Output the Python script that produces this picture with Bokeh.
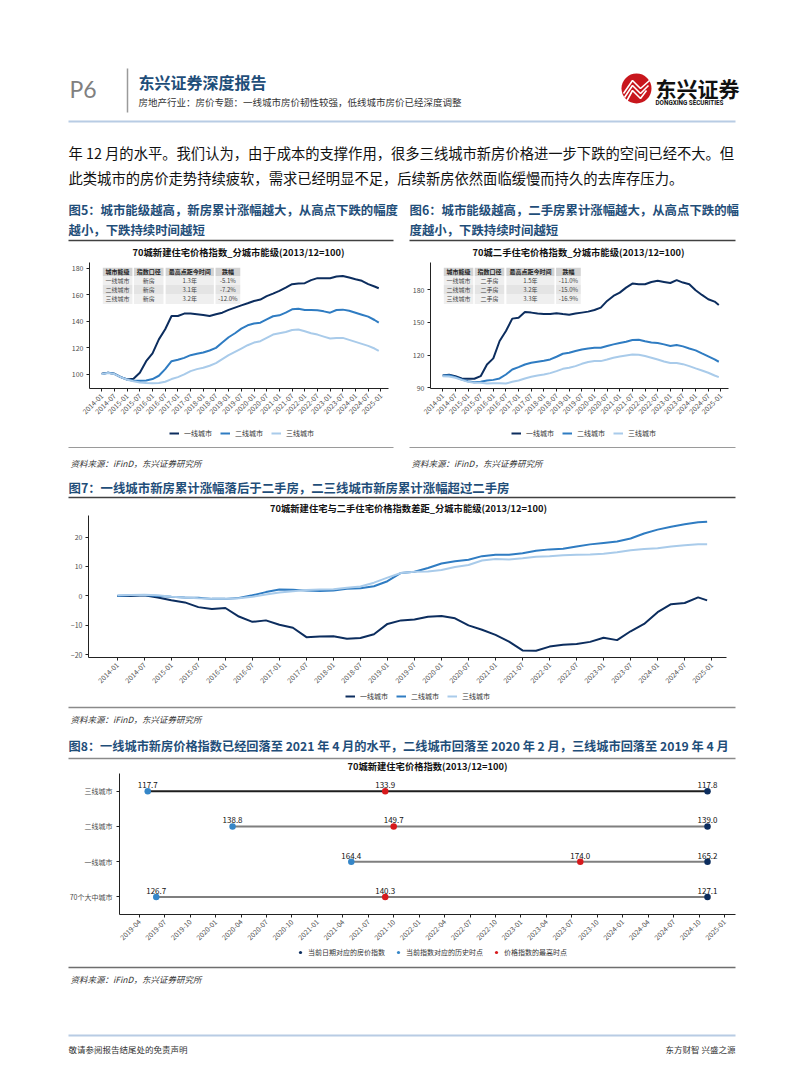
import calendar
from bokeh.plotting import figure
from bokeh.models import Range1d, FactorRange, FixedTicker, Legend, LegendItem
from bokeh.layouts import column, row
from bokeh.core.properties import value
from bokeh.embed import file_html
from bokeh.resources import INLINE

FONT = "Noto Sans CJK SC"
NAVY = "#0c2d5e"
MID = "#2f7cc2"
LIGHT = "#a9cbea"
RED = "#d7191c"
HIST = "#3586c8"
TITLE_BLUE = "#1f4e79"
GRAYTXT = "#4d4d4d"

# ------------------------------------------------------------------ data
months = [f"{y}-{m:02d}" for y in range(2014, 2025) for m in (1, 4, 7, 10)] + ["2024-12"]
ticks_6m = [f"{y}-{m:02d}" for y in range(2014, 2026) for m in (1, 7)][:-1]
tiers = ["一线城市", "二线城市", "三线城市"]

# Fig5: 70-city new home price index by tier (2013/12=100)
new_t1 = [100.5, 101.3, 100.5, 98, 96.2, 96.7, 101.3, 110, 115.9, 126.4, 134, 144,
          144, 145.8, 145.8, 145.3, 144.8, 144, 145.3, 146.5, 148.6, 150.3, 152, 153.6,
          155.3, 156.4, 159, 160.9, 162.9, 165.4, 168, 168.4, 168.7, 171, 172.5, 172.5,
          172.5, 173.7, 174.2, 173, 171.7, 170.5, 168, 166.2, 164.9]
new_t2 = [100.3, 101.2, 100.5, 98, 96.2, 95.3, 95.2, 95.5, 96.5, 99, 104, 110,
          111, 112.5, 114.5, 115.5, 116.5, 118, 120, 124, 128, 131, 134.5, 137,
          138.3, 139, 141.5, 143.8, 144.5, 146.5, 149, 149.5, 148.5, 148.5, 148.3, 147.5,
          146.5, 148.5, 148.8, 148, 146.5, 145, 143.5, 141, 139]
new_t3 = [100.3, 101, 100.3, 98, 96, 94.8, 94, 93.5, 93.3, 93.5, 94.5, 96.5,
          98, 100, 102.5, 104, 105, 106.5, 108.5, 111.5, 114.5, 117, 119.5, 122,
          124, 125, 127.5, 130, 131, 132, 133.5, 133.8, 132.5, 131, 130, 128.5,
          127, 127.5, 127.5, 126, 124.5, 123, 121.5, 119.5, 117.8]

# Fig6: 70-city second-hand home price index by tier
sec_t1 = [101.3, 102, 100.7, 98.6, 98.3, 98.3, 100.7, 111.4, 117, 132.9, 142, 153.4,
          154.3, 159.5, 158.9, 158, 157.6, 157.6, 158.3, 157.6, 157, 158, 158.9, 159.8,
          161.3, 163.5, 169.6, 174.2, 177.2, 181.8, 185.5, 184.9, 184.9, 187, 188, 187,
          186, 188.6, 186.4, 184.9, 179.4, 175.1, 171.1, 169, 165.9]
sec_t2 = [101.3, 101.6, 99.8, 97.7, 96.1, 95.2, 95.5, 96.7, 97.3, 98.6, 102.2, 106.8,
          109, 111.4, 113, 113.9, 114.8, 116, 118.5, 121.2, 122.1, 123.7, 125.2, 126.1,
          126.7, 126.7, 128.3, 129.8, 131, 132.2, 133.8, 134.1, 132.6, 131.6, 131, 129.8,
          128.3, 129.2, 128, 126.1, 124.3, 121.5, 118.8, 116, 113.9]
sec_t3 = [100.7, 100.4, 99.2, 97.3, 95.5, 94.6, 94.6, 94, 94.3, 94.3, 94, 95.5,
          96.7, 98.6, 100.1, 101.3, 102.2, 103.5, 105.3, 107.4, 108.4, 109.9, 112, 113.6,
          114.5, 114.5, 116, 117.6, 118.8, 119.7, 120.6, 120.3, 119.1, 117.6, 116, 114.2,
          112.7, 112.7, 111.7, 109.9, 107.8, 105.9, 103.8, 101.3, 99.8]

# Fig7: gap new minus second-hand
gap_t1 = [0, 0, 0.2, -0.5, -1.5, -2.2, -3.8, -4.4, -4.1, -7, -8.8, -8.3,
          -9.8, -10.8, -14, -13.8, -13.7, -14.5, -14.3, -13, -9.5, -8.3, -8.0, -7.1,
          -6.8, -7.6, -10, -11.5, -13.2, -15.5, -18.5, -18.6, -17.2, -16.6, -16.3, -15.6,
          -14.2, -15, -12, -9.5, -5.5, -2.8, -2.4, -0.5, -1.5]
gap_t2 = [0, 0.2, 0.2, 0, -0.3, -0.5, -0.6, -1, -1, -0.7, 0.2, 1.3,
          2.2, 2.1, 1.8, 1.7, 1.8, 2.4, 2.6, 3.3, 5, 7.8, 8.2, 9.5,
          11, 11.8, 12.3, 13.5, 14, 14, 14.5, 15.3, 15.8, 16, 16.8, 17.5,
          18, 18.5, 19.5, 21.2, 22.5, 23.5, 24.3, 25, 25.2]
gap_t3 = [0.2, 0.3, 0.4, 0.2, -0.3, -0.5, -0.8, -1, -1, -0.8, -0.3, 0.5,
          1.2, 1.6, 2, 2.2, 2.3, 2.8, 3.2, 4.5, 6.2, 7.8, 8.2, 8.3,
          8.8, 9.8, 10.5, 12, 12.5, 12.4, 12.8, 13.3, 13.5, 13.8, 14, 14.1,
          14.3, 14.8, 15.5, 15.9, 16.2, 16.8, 17.2, 17.5, 17.5]

# tables in fig5 / fig6
table_header = ["城市能级", "指数口径", "最高点距今时间", "跌幅"]
table5_rows = [["一线城市", "新房", "1.3年", "-5.1%"],
               ["二线城市", "新房", "3.1年", "-7.2%"],
               ["三线城市", "新房", "3.2年", "-12.0%"]]
table6_rows = [["一线城市", "二手房", "1.5年", "-11.0%"],
               ["二线城市", "二手房", "3.2年", "-15.0%"],
               ["三线城市", "二手房", "3.3年", "-16.9%"]]

# Fig8: dumbbell
cities8 = ["三线城市", "二线城市", "一线城市", "70个大中城市"]
cur_val = [117.8, 139.0, 165.2, 127.1]
cur_date = ["2024-10-31", "2024-10-31", "2024-10-31", "2024-10-31"]
hist_val = [117.7, 138.8, 164.4, 126.7]
hist_date = ["2019-04-30", "2020-02-29", "2021-04-30", "2019-05-31"]
peak_val = [133.9, 149.7, 174.0, 140.3]
peak_date = ["2021-08-31", "2021-09-30", "2023-07-31", "2021-08-31"]
legend8 = ["当前日期对应的房价指数", "当前指数对应的历史时点", "价格指数的最高时点"]
ticks_3m = [f"{y}-{m:02d}" for y in range(2019, 2026) for m in (1, 4, 7, 10)]
ticks_3m = [t for t in ticks_3m if "2019-04" <= t <= "2025-01"]


def midx(s, base="2014-01"):
    y, m = int(s[:4]), int(s[5:7])
    by, bm = int(base[:4]), int(base[5:7])
    v = (y - by) * 12 + (m - bm)
    if len(s) > 7:
        d = int(s[8:10])
        v += d / calendar.monthrange(y, m)[1]
    return v


COMMON = dict(output_backend="svg", toolbar_location=None, frame_align=False)
W = 802


# ------------------------------------------------------------------ helpers
def band(y0, y1):
    p = figure(width=W, height=y1 - y0, x_range=Range1d(0, W), y_range=Range1d(y1, y0),
               min_border=0, x_axis_location=None, y_axis_location=None, **COMMON)
    p.grid.visible = False
    p.outline_line_color = None
    return p


def txt(p, x, y, s, size, color="#111111", bold=False, italic=False, align="left", font=FONT):
    style = "bold" if bold else ("italic" if italic else "normal")
    p.text(x=[x], y=[y], text=[s], text_font=value(font), text_font_size=f"{size}px",
           text_color=color, text_align=align, text_baseline="middle", text_font_style=style)


def hline(p, x0, x1, y, color, w):
    p.line(x=[x0, x1], y=[y, y], line_color=color, line_width=w)


def style_axes(p):
    for ax in (p.xaxis[0], p.yaxis[0]):
        ax.axis_line_color = "#222222"
        ax.axis_line_width = 1
        ax.major_tick_line_color = "#222222"
        ax.major_tick_out = 3
        ax.major_tick_in = 0
        ax.minor_tick_line_color = None
        ax.major_label_text_font = FONT
        ax.major_label_text_font_size = "7px"
        ax.major_label_text_color = GRAYTXT
        ax.major_label_standoff = 3
    p.grid.visible = False
    p.outline_line_color = None


def band_legend(b, left, center_y, labels, colors, kind="line", glyph_w=10, standoff=5, spacing=8):
    """Legend drawn in a band figure (page coordinates) for the chart above it.
    The key renderers sit outside the band's visible range; only their legend keys show."""
    items = []
    for lab, col in zip(labels, colors):
        if kind == "line":
            r = b.line(x=[-60, -50], y=[-60, -60], line_color=col, line_width=2)
        else:
            r = b.scatter(x=[-60], y=[-60], size=6.5, fill_color=col, line_color=None)
        items.append(LegendItem(label=lab, renderers=[r]))
    bottom = b.y_range.start
    lg = Legend(items=items, orientation="horizontal", location=(left, bottom - center_y - 5),
                label_text_font=FONT, label_text_font_size="7px", label_text_color="#333333",
                glyph_width=glyph_w, glyph_height=10, label_standoff=standoff, spacing=spacing,
                padding=0, margin=0, border_line_color=None, background_fill_alpha=0)
    b.add_layout(lg, "center")


def line_chart(width, height, xr, yr, mb, yticks, series):
    p = figure(width=width, height=height, x_range=Range1d(*xr), y_range=Range1d(*yr),
               min_border_left=mb[0], min_border_right=mb[1], min_border_top=mb[2],
               min_border_bottom=mb[3], **COMMON)
    style_axes(p)
    xs = [midx(m) for m in months]
    p.xaxis.ticker = FixedTicker(ticks=[midx(t) for t in ticks_6m])
    p.xaxis.major_label_overrides = {midx(t): t for t in ticks_6m}
    p.xaxis.major_label_orientation = 0.785
    p.yaxis.ticker = FixedTicker(ticks=yticks)
    for name, vals, color in series:
        p.line(x=xs, y=vals, line_color=color, line_width=2)
    return p


def add_table(p, rows, ybounds, header=table_header):
    cols = [(0.5, 14.5), (15.2, 29.2), (30.2, 53.0), (53.8, 65.5)]
    fills = ["#d2d2d2", "#efefef", "#e4e4e4", "#efefef"]
    data = [header] + rows
    for i, r in enumerate(data):
        top, bot = ybounds[i], ybounds[i + 1]
        p.quad(left=[c[0] for c in cols], right=[c[1] for c in cols], top=[top] * 4,
               bottom=[bot] * 4, fill_color=fills[i], line_color=None)
        p.text(x=[(c[0] + c[1]) / 2 for c in cols], y=[(top + bot) / 2] * 4, text=r,
               text_font=value(FONT), text_font_size="6px", text_align="center",
               text_baseline="middle", text_color="#222222" if i == 0 else "#444444",
               text_font_style="bold" if i == 0 else "normal")


tier_colors = [NAVY, MID, LIGHT]

# ------------------------------------------------------------------ band A (header, text, fig5/6 titles)
A = band(0, 258)
txt(A, 69, 88, "P6", 23, "#808080", font="Lato")
A.line(x=[127, 127], y=[68, 112], line_color="#9a9a9a", line_width=1.5)
txt(A, 138, 81, "东兴证券深度报告", 16, TITLE_BLUE, bold=True)
txt(A, 138, 101, "房地产行业：房价专题：一线城市房价韧性较强，低线城市房价已经深度调整", 9.5, "#333333")
A.scatter(x=[636], y=[88], size=30, marker="circle", fill_color="#c8161d", line_color=None)
A.multi_line(xs=[[623, 632, 640, 649], [624, 632, 640, 648], [626, 632, 640, 646]],
             ys=[[93, 80, 88, 80], [97, 85, 93, 85], [101, 90, 98, 90]],
             line_color="white", line_width=1.6)
txt(A, 655, 87, "东兴证券", 21, "#111111", bold=True)
txt(A, 655, 102, "DONGXING SECURITIES", 6.3, "#111111", bold=True, font="Roboto")
hline(A, 68, 735, 121, "#b8cce4", 2)
txt(A, 68, 152, "年 12 月的水平。我们认为，由于成本的支撑作用，很多三线城市新房价格进一步下跌的空间已经不大。但", 14.3)
txt(A, 68, 177, "此类城市的房价走势持续疲软，需求已经明显不足，后续新房依然面临缓慢而持久的去库存压力。", 14.3)
txt(A, 68, 209, "图5：城市能级越高，新房累计涨幅越大，从高点下跌的幅度", 12.4, TITLE_BLUE, bold=True)
txt(A, 68, 229, "越小，下跌持续时间越短", 12.4, TITLE_BLUE, bold=True)
txt(A, 409, 209, "图6：城市能级越高，二手房累计涨幅越大，从高点下跌的幅", 12.4, TITLE_BLUE, bold=True)
txt(A, 409, 229, "度越小，下跌持续时间越短", 12.4, TITLE_BLUE, bold=True)
hline(A, 68, 393, 240, "#404040", 1.5)
hline(A, 409, 735, 240, "#404040", 1.5)
txt(A, 238, 251, "70城新建住宅价格指数_分城市能级(2013/12=100)", 9.3, "#111111", bold=True, align="center")
txt(A, 578, 251, "70城二手住宅价格指数_分城市能级(2013/12=100)", 9.3, "#111111", bold=True, align="center")

# ------------------------------------------------------------------ fig5 / fig6  (page y 258..425)
f5 = line_chart(409, 167, (-5.8, 135.6), (89.4, 184.3), (89, 21, 4, 37), [100, 120, 140, 160, 180],
                [(tiers[0], new_t1, NAVY), (tiers[1], new_t2, MID), (tiers[2], new_t3, LIGHT)])
add_table(f5, table5_rows, [180.3, 174.2, 167.4, 160.6, 153.1])
f6 = line_chart(393, 167, (-5.8, 135.6), (89.4, 204.8), (19, 74, 4, 37), [90, 120, 150, 180],
                [(tiers[0], sec_t1, NAVY), (tiers[1], sec_t2, MID), (tiers[2], sec_t3, LIGHT)])
add_table(f6, table6_rows, [199.9, 192.5, 184.3, 176.0, 166.8])

# ------------------------------------------------------------------ band C
SRC = "资料来源：iFinD，东兴证券研究所"
C = band(425, 514)
band_legend(C, 169, 433, tiers, tier_colors)
band_legend(C, 511, 433, tiers, tier_colors)
hline(C, 68, 393, 447, "#9a9a9a", 1.2)
hline(C, 409, 735, 447, "#9a9a9a", 1.2)
txt(C, 70, 462, SRC, 8.5, "#333333", italic=True)
txt(C, 411, 462, SRC, 8.5, "#333333", italic=True)
txt(C, 68, 487, "图7：一线城市新房累计涨幅落后于二手房，二三线城市新房累计涨幅超过二手房", 12.4, TITLE_BLUE, bold=True)
hline(C, 68, 735, 497, "#404040", 1.5)
txt(C, 408, 507, "70城新建住宅与二手住宅价格指数差距_分城市能级(2013/12=100)", 9.3, "#111111", bold=True, align="center")

# ------------------------------------------------------------------ fig7  (page y 514..689)
f7 = line_chart(W, 175, (-6.4, 135.3), (-20.9, 27.3), (88, 76, 1, 32), [-20, -10, 0, 10, 20],
                [(tiers[0], gap_t1, NAVY), (tiers[1], gap_t2, MID), (tiers[2], gap_t3, LIGHT)])

# ------------------------------------------------------------------ band E
E = band(689, 772)
band_legend(E, 345, 696, tiers, tier_colors)
hline(E, 68, 735, 707, "#8a8a8a", 1.5)
txt(E, 70, 718, SRC, 8.5, "#333333", italic=True)
txt(E, 68, 745, "图8：一线城市新房价格指数已经回落至 2021 年 4 月的水平，二线城市回落至 2020 年 2 月，三线城市回落至 2019 年 4 月",
    12.2, TITLE_BLUE, bold=True)
hline(E, 68, 735, 758, "#8a8a8a", 1.5)
txt(E, 427, 765, "70城新建住宅价格指数(2013/12=100)", 9.3, "#111111", bold=True, align="center")

# ------------------------------------------------------------------ fig8  (page y 772..946)
f8 = figure(width=W, height=174, x_range=Range1d(-2.33, 70.3),
            y_range=FactorRange(factors=list(reversed(cities8))),
            min_border_left=119, min_border_right=67, min_border_top=1, min_border_bottom=32,
            **COMMON)
style_axes(f8)
base8 = "2019-04"
f8.xaxis.ticker = FixedTicker(ticks=[midx(t, base8) for t in ticks_3m])
f8.xaxis.major_label_overrides = {midx(t, base8): t for t in ticks_3m}
f8.xaxis.major_label_orientation = 0.785
f8.yaxis.major_label_standoff = 4
cx = [midx(d, base8) for d in cur_date]
hx = [midx(d, base8) for d in hist_date]
px = [midx(d, base8) for d in peak_date]
seg_colors = ["#1e1e1e", "#7f7f7f", "#7f7f7f", "#7f7f7f"]
f8.segment(x0=hx, y0=cities8, x1=cx, y1=cities8, line_color=seg_colors, line_width=2)
f8.scatter(x=cx, y=cities8, size=6.5, fill_color=NAVY, line_color=None)
f8.scatter(x=hx, y=cities8, size=6.5, fill_color=HIST, line_color=None)
f8.scatter(x=px, y=cities8, size=6.5, fill_color=RED, line_color=None)
for xs_, vs_ in ((cx, cur_val), (hx, hist_val), (px, peak_val)):
    f8.text(x=xs_, y=cities8, text=[f"{v:.1f}" for v in vs_], text_font=value(FONT),
            text_font_size="8px", text_color="#111111", text_align="center",
            text_baseline="bottom", y_offset=-3)

# ------------------------------------------------------------------ band G
G = band(946, 1086)
band_legend(G, 296, 952, legend8, [NAVY, HIST, RED], kind="dot", glyph_w=8, standoff=4, spacing=9)
hline(G, 68, 735, 967, "#6e6e6e", 1.5)
txt(G, 70, 978, SRC, 8.5, "#333333", italic=True)
hline(G, 68, 735, 1035, "#b8cce4", 2)
txt(G, 68, 1048, "敬请参阅报告结尾处的免责声明", 8.5, "#333333")
txt(G, 735, 1048, "东方财智 兴盛之源", 8.5, "#333333", align="right")

page = column(A, row(f5, f6, spacing=0), C, f7, E, f8, G, spacing=0)
open("out.html", "w").write(file_html(page, INLINE))
